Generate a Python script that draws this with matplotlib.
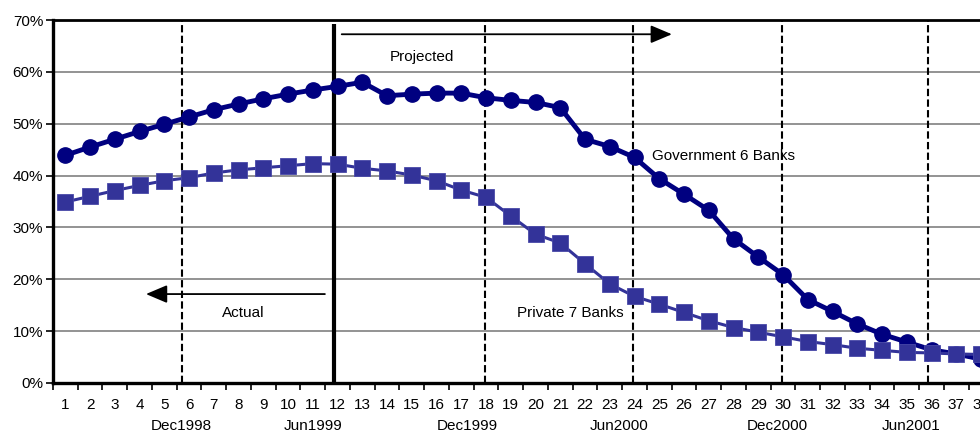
import matplotlib
matplotlib.use("Agg")
import matplotlib.pyplot as plt
from matplotlib.patches import FancyArrowPatch
from matplotlib.ticker import FixedLocator, FuncFormatter
import matplotlib.transforms as mtransforms

plt.rcParams['font.family'] = ['Liberation Sans', 'DejaVu Sans']

# Month index (1..38)
periods = list(range(1, 39))

# Share of NPLs, in percent
government_6 = [43.9, 45.5, 47.0, 48.5, 49.9, 51.3, 52.7, 53.8, 54.8, 55.7,
                56.5, 57.2, 58.0, 55.4, 55.7, 55.9, 55.9, 55.0, 54.5, 54.1,
                53.1, 47.0, 45.6, 43.5, 39.4, 36.4, 33.3, 27.8, 24.3, 20.9,
                16.1, 13.8, 11.4, 9.4, 7.9, 6.4, 5.6, 4.6]
private_7 = [34.9, 36.0, 37.1, 38.1, 39.0, 39.6, 40.5, 41.1, 41.5, 41.9,
             42.3, 42.2, 41.4, 40.9, 40.1, 39.0, 37.2, 35.8, 32.2, 28.7,
             27.0, 23.0, 19.1, 16.7, 15.2, 13.6, 12.0, 10.7, 9.8, 8.9,
             8.0, 7.4, 6.7, 6.3, 5.9, 5.8, 5.6, 5.5]

# Calendar markers below the month index
month_labels = ["Dec1998", "Jun1999", "Dec1999", "Jun2000", "Dec2000", "Jun2001"]
month_label_pos = [5.69, 11.0, 17.23, 23.37, 29.75, 35.17]
half_year_lines = [5.72, 17.97, 23.92, 29.97, 35.87]
actual_projected_split = 11.85

FS = 11

fig = plt.figure(figsize=(9.8, 4.32), dpi=100)
ax = fig.add_axes([52.9 / 980, 1 - 383 / 432, 990 / 980, 363 / 432])

ax.set_xlim(0.5, 40.5)
ax.set_ylim(0, 70)

# Horizontal gridlines
for v in range(10, 70, 10):
    ax.axhline(v, color="#808080", lw=1.2, zorder=1)

# Half-year dashed separators
for xv in half_year_lines:
    ax.axvline(xv, color="black", lw=1.5, ls=(0, (3.5, 1.6)), zorder=2)

# Boundary between actual and projected
ax.plot([actual_projected_split] * 2, [0, 69.2], color="black", lw=3,
        solid_capstyle="butt", zorder=3)

ax.plot(periods, government_6, color="#000080", lw=3.5, marker="o",
        markersize=11, zorder=4)
ax.plot(periods, private_7, color="#333399", lw=2.2, marker="s",
        markersize=11, markeredgecolor="#4848a8", markeredgewidth=0.6,
        zorder=5)

# Spines
for side in ("left", "bottom", "top"):
    ax.spines[side].set_color("black")
    ax.spines[side].set_linewidth(2.4)
ax.spines["top"].set_linewidth(2.0)
ax.spines["right"].set_visible(False)

# Ticks
ax.yaxis.set_major_locator(FixedLocator(range(0, 71, 10)))
ax.yaxis.set_major_formatter(FuncFormatter(lambda v, p: f"{int(v)}%"))
ax.tick_params(axis="y", direction="out", length=5, width=1.2, pad=2,
               labelsize=FS, colors="black")

ax.xaxis.set_major_locator(FixedLocator(range(1, 41)))
ax.xaxis.set_major_formatter(FuncFormatter(lambda v, p: f"{int(v)}"))
ax.xaxis.set_minor_locator(FixedLocator([i + 0.5 for i in range(0, 41)]))
ax.tick_params(axis="x", which="major", length=0, pad=10.5, labelsize=FS)
ax.tick_params(axis="x", which="minor", direction="out", length=5, width=1.2)

trans = mtransforms.blended_transform_factory(ax.transData, ax.transAxes)
for lab, pos in zip(month_labels, month_label_pos):
    ax.text(pos, -0.118, lab, transform=trans, ha="center", va="center",
            fontsize=FS, clip_on=False)

# Arrows
ax.add_patch(FancyArrowPatch((12.17, 67.25), (25.51, 67.25),
                             arrowstyle="-|>,head_length=1.3,head_width=0.55",
                             mutation_scale=10, color="black", lw=1.3,
                             shrinkA=0, shrinkB=0, zorder=6))
ax.add_patch(FancyArrowPatch((11.49, 17.15), (4.26, 17.15),
                             arrowstyle="-|>,head_length=1.3,head_width=0.55",
                             mutation_scale=10, color="black", lw=1.3,
                             shrinkA=0, shrinkB=0, zorder=6))

ax.text(15.4, 62.9, "Projected", ha="center", va="center", fontsize=FS)
ax.text(8.18, 13.55, "Actual", ha="center", va="center", fontsize=FS)
ax.text(24.7, 43.7, "Government 6 Banks", ha="left", va="center", fontsize=FS)
ax.text(19.24, 13.55, "Private 7 Banks", ha="left", va="center", fontsize=FS)

fig.savefig("out.png", dpi=100)
